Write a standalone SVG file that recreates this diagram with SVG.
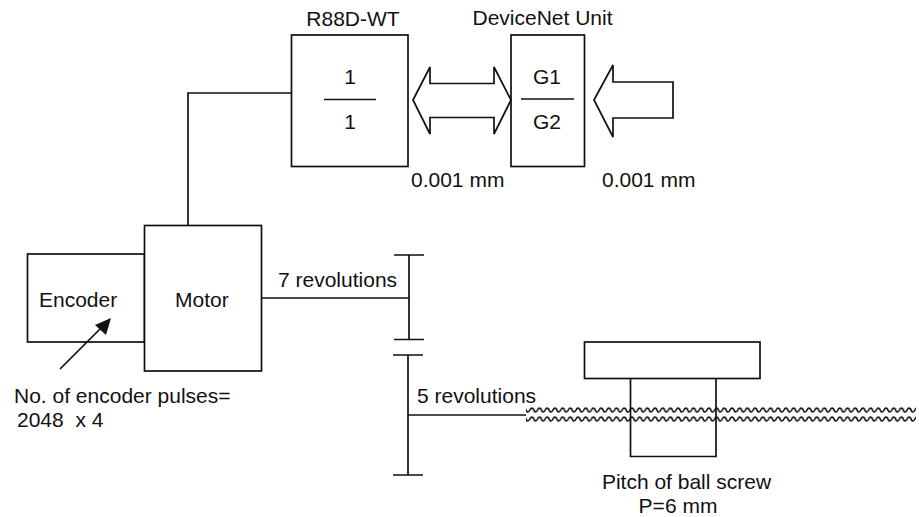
<svg xmlns="http://www.w3.org/2000/svg" width="919" height="517" viewBox="0 0 919 517">
<style>
text{font-family:"Liberation Sans",Arial,sans-serif;font-size:21px;fill:#111;white-space:pre}
.s{fill:none;stroke:#111;stroke-width:1.7}
.b{fill:#fff;stroke:#111;stroke-width:1.7}
</style>
<defs>
<pattern id="wave" patternUnits="userSpaceOnUse" x="526" y="406" width="7.700" height="9">
<path d="M-3.850 4q1.925 -4 3.850 0t3.850 0t3.850 0t3.850 0" fill="none" stroke="#111" stroke-width="1.700"/>
</pattern>
</defs>
<rect width="919" height="517" fill="#fff"/>
<g id="connectors">
<path class="s" d="M291.500 93H188V225.500"/>
<path class="s" d="M262 298H409"/>
<path class="s" d="M408 415H526"/>
</g>
<g id="servo">
<rect class="b" x="291.500" y="35" width="116.500" height="131.500"/>
<path class="s" d="M324 99.500H376"/>
<text x="350" y="84" text-anchor="middle">1</text>
<text x="350" y="129" text-anchor="middle">1</text>
<text x="353" y="26" text-anchor="middle">R88D-WT</text>
</g>
<g id="devicenet">
<rect class="b" x="511" y="35" width="73.500" height="131.500"/>
<path class="s" d="M521 99H574"/>
<text x="547" y="84" text-anchor="middle">G1</text>
<text x="547" y="129" text-anchor="middle">G2</text>
<text x="542.500" y="25" text-anchor="middle">DeviceNet Unit</text>
</g>
<g id="arrow-double">
<path class="s" d="M413 100L430 67V83.500H494V67L511 100L494 134V117.500H430V134Z"/>
<text x="411" y="187">0.001 mm</text>
</g>
<g id="arrow-input">
<path class="s" d="M594 100L613 65V82H673V118H613V137Z"/>
<text x="602" y="187">0.001 mm</text>
</g>
<g id="encoder">
<rect class="b" x="27.500" y="254" width="117" height="88"/>
<text x="39" y="307">Encoder</text>
</g>
<g id="motor">
<rect class="b" x="144.500" y="225.500" width="117" height="145.500"/>
<text x="175" y="307">Motor</text>
</g>
<g id="encoder-label">
<path class="s" d="M60 369L100 329"/>
<path d="M111 318L95 325L106 335Z" fill="#111"/>
<text x="14" y="403">No. of encoder pulses=</text>
<text x="17" y="427">2048  x 4</text>
</g>
<g id="gear-1">
<path class="s" d="M394 255H424M409 255V340M394 339.500H424"/>
<text x="278" y="287">7 revolutions</text>
</g>
<g id="gear-2">
<path class="s" d="M393 355H423M408 355V475M393 475H423"/>
<text x="417" y="403">5 revolutions</text>
</g>
<g id="ball-screw">
<rect class="b" x="584.500" y="342" width="175.500" height="36.500"/>
<path class="s" d="M630.500 378.500V456.500H716V378.500"/>
<rect x="526" y="406" width="390" height="18" fill="url(#wave)"/>
<text x="686.500" y="488.500" text-anchor="middle">Pitch of ball screw</text>
<text x="678" y="512.500" text-anchor="middle">P=6 mm</text>
</g>
</svg>
